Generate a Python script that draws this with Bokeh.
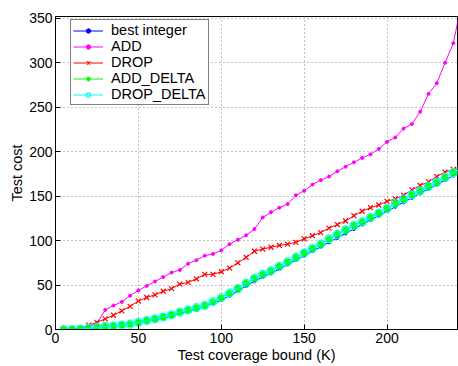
from bokeh.plotting import figure
from bokeh.models import Range1d, FixedTicker, Legend
from bokeh.embed import file_html
from bokeh.resources import INLINE

x = [5, 10, 15, 20, 25, 30, 35, 40, 45, 50, 55, 60, 65, 70, 75, 80, 85, 90, 95, 100,
     105, 110, 115, 120, 125, 130, 135, 140, 145, 150, 155, 160, 165, 170, 175, 180,
     185, 190, 195, 200, 205, 210, 215, 220, 225, 230, 235, 240, 245]

best_integer = [0, 0, 0.5, 1, 2, 3, 4, 5, 6, 7.5, 9.5, 11, 13, 15, 18, 20.5, 23, 26, 29, 33,
                38, 43, 49, 54, 59, 63, 68, 73, 78, 83, 88, 93, 98, 103, 108, 113,
                118, 123, 128, 133, 138, 143, 148, 153, 158, 163, 168, 173, 178]

add = [0, 0, 1, 3, 7, 22, 27, 31, 38, 44, 49, 54, 59, 64, 67, 74, 78, 83, 85, 89,
       96, 101, 106, 113, 126, 132, 137, 141, 151, 156, 163, 168, 172, 178, 183, 188,
       193, 197, 203, 211, 216, 226, 231, 245, 265, 277, 300, 322, 368]

drop = [0, 0.5, 1.5, 5, 8, 12, 16, 21, 26, 32, 36, 39, 43, 46, 51, 53, 57, 62, 62, 65,
        69, 75, 81, 88, 90.5, 92.5, 94.5, 96, 98, 102, 105.5, 109, 114, 118, 122, 128,
        133, 137, 140, 144, 147, 151, 157, 162, 166, 172, 177, 180, 184]

add_delta = [0, 0, 0.5, 1.2, 2.4, 3.5, 4, 5, 6, 8, 10, 12, 14, 16.5, 19.5, 22, 24.5, 27, 31, 35.5,
             40.5, 46, 52, 57.5, 62, 66, 71, 76, 81, 86, 91, 96, 101.5, 107, 112, 117,
             121, 126, 131, 136, 141.5, 146, 151.5, 156, 161, 165.5, 171, 176.5, 181]

drop_delta = [0, 0, 0.5, 1.2, 2.4, 3.5, 4, 5, 6, 8, 10, 12, 14, 16.5, 19.5, 22, 24.5, 27, 31.5, 36,
              41, 46, 52, 57.5, 62, 66, 71, 76, 81, 86, 91, 96, 102, 107, 112, 117,
              121, 126, 131, 136, 142, 146.5, 151.5, 156, 161, 165.5, 171, 176.5, 181]

x_ticks = [0, 50, 100, 150, 200]
y_ticks = [0, 50, 100, 150, 200, 250, 300, 350]

FONT = "Liberation Sans"

p = figure(width=458, height=366, output_backend="svg", toolbar_location=None,
           x_range=Range1d(0, 242.5), y_range=Range1d(0, 352),
           min_border_left=55, min_border_right=1, min_border_top=16, min_border_bottom=37)

p.outline_line_color = "black"
p.outline_line_width = 1
p.background_fill_color = "white"
p.border_fill_color = "white"

for ax in (p.xaxis[0], p.yaxis[0]):
    ax.axis_line_color = "black"
    ax.axis_line_width = 1
    ax.major_tick_in = 5
    ax.major_tick_out = 0
    ax.minor_tick_line_color = None
    ax.major_label_text_font = FONT
    ax.major_label_text_font_size = "14px"
    ax.major_label_text_color = "black"
    ax.axis_label_text_font = FONT
    ax.axis_label_text_font_size = "14.5px"
    ax.axis_label_text_font_style = "normal"
    ax.axis_label_text_color = "black"
    ax.major_label_standoff = 3
    ax.axis_label_standoff = 1

p.xaxis.ticker = FixedTicker(ticks=x_ticks)
p.yaxis.ticker = FixedTicker(ticks=y_ticks)
p.xaxis.axis_label = "Test coverage bound (K)"
p.yaxis.axis_label = "Test cost"

for g in (p.xgrid[0], p.ygrid[0]):
    g.grid_line_color = "#888888"
    g.grid_line_dash = "1 3"
    g.grid_line_width = 1
p.xgrid.ticker = FixedTicker(ticks=x_ticks)
p.ygrid.ticker = FixedTicker(ticks=y_ticks)

items = []

l1 = p.line(x, best_integer, line_color="#0000FF", line_width=1)
m1 = p.scatter(x, best_integer, marker="circle", size=3, color="#0000FF")
items.append(("best integer", [l1, m1]))

l2 = p.line(x, add, line_color="#FF00FF", line_width=1)
m2 = p.scatter(x, add, marker="circle", size=3, color="#FF00FF")
items.append(("ADD", [l2, m2]))

l3 = p.line(x, drop, line_color="#FF0000", line_width=1)
m3 = p.scatter(x, drop, marker="x", size=7, line_color="#FF0000", line_width=1.2)
items.append(("DROP", [l3, m3]))

l4 = p.line(x, add_delta, line_color="#00FF00", line_width=1)
m4 = p.scatter(x, add_delta, marker="asterisk", size=7, line_color="#00FF00", line_width=2)
items.append(("ADD_DELTA", [l4, m4]))

l5 = p.line(x, drop_delta, line_color="#00FFFF", line_width=1)
m5 = p.scatter(x, drop_delta, marker="circle", size=8, line_color="#00FFFF",
               fill_color=None, line_width=1.2)
items.append(("DROP_DELTA", [l5, m5]))

legend = Legend(items=items, location=(15, 224))
legend.label_text_font = FONT
legend.label_text_font_size = "14.5px"
legend.label_text_color = "black"
legend.border_line_color = "black"
legend.border_line_width = 1
legend.background_fill_color = "white"
legend.background_fill_alpha = 1
legend.padding = 2
legend.spacing = 0
legend.margin = 0
legend.glyph_width = 30
legend.glyph_height = 11
legend.label_height = 16
legend.label_standoff = 8
p.add_layout(legend, "center")

open("out.html", "w").write(file_html(p, INLINE))
